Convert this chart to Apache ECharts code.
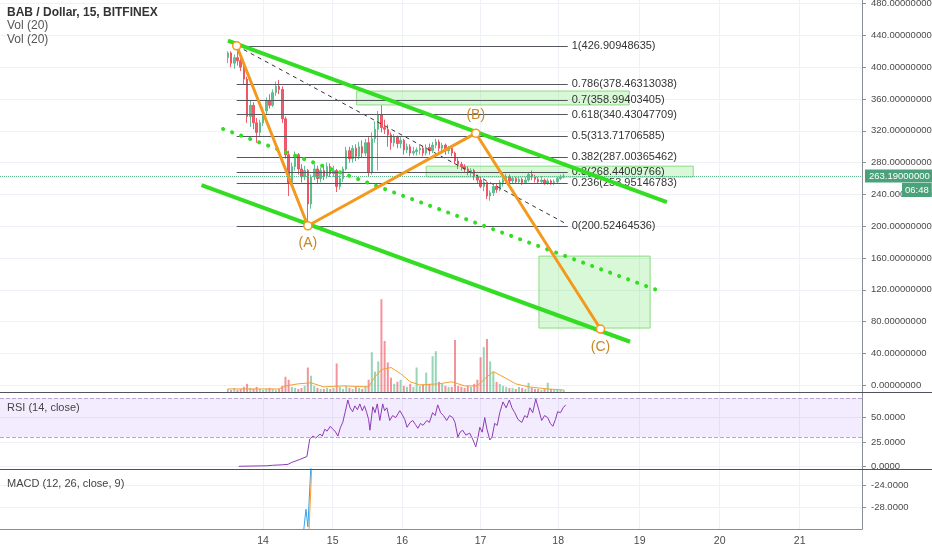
<!DOCTYPE html>
<html>
<head>
<meta charset="utf-8">
<script src="https://cdn.jsdelivr.net/npm/echarts@6/dist/echarts.min.js"></script>
<style>
html,body{margin:0;padding:0;background:#ffffff;}
#chart{width:932px;height:550px;}
</style>
</head>
<body>
<div id="chart"></div>
<script>
// ---- BAB / Dollar, 15-minute bars, BITFINEX ----
// x axis is measured in 15-minute bars; candles are sampled every 4 bars.
const candleStartBar = 285;
const candleStep = 4;

// [open, close, low, high]
const candles = [
  [412,418,405,420],[418,405,400,420],[405,412,398,416],[412,408,402,426.91],[408,400,395,412],[400,385,378,404],[385,338,330,388],[338,352,325,358],[352,330,322,356],[330,318,305,336],
  [318,330,312,334],[330,345,326,350],[345,358,340,362],[358,352,348,366],[352,368,350,372],[368,376,364,382],[376,372,366,384],[372,335,330,376],[335,290,285,338],[290,255,238,295],
  [255,275,250,280],[275,290,270,294],[290,272,265,292],[272,262,255,278],[262,270,258,276],[270,228,200.52,272],[228,262,222,265],[262,272,258,278],[272,260,254,276],[260,270,255,274],
  [270,263,258,278],[263,275,260,280],[275,266,262,279],[266,270,262,276],[270,250,243,272],[250,260,246,264],[260,272,256,275],[272,295,270,300],[295,285,280,300],[285,298,280,302],
  [298,288,282,303],[288,300,284,306],[300,292,286,308],[292,305,288,310],[305,268,262,312],[268,310,265,318],[310,322,305,332],[322,340,270,345],[340,324,318,352],[324,322,316,334],
  [322,315,300,328],[315,305,296,318],[305,312,300,316],[312,304,298,314],[304,308,298,312],[308,296,290,310],[296,300,292,304],[300,292,288,303],[292,294,289,300],[294,296,289,299],
  [296,298,290,303],[298,292,288,301],[292,299,289,303],[299,295,290,304],[295,302,292,306],[302,306,298,310],[306,298,294,309],[298,302,294,305],[302,295,290,304],[295,298,291,301],
  [298,292,288,300],[292,282,278,294],[282,278,272,286],[278,275,270,281],[275,272,268,278],[272,268,264,275],[268,270,263,273],[270,262,258,272],[262,258,253,265],[258,250,248,262],
  [250,255,244,258],[255,238,234,256],[238,242,232,245],[242,250,238,252],[250,246,242,254],[246,255,244,258],[255,258,250,262],[258,262,255,266],[262,257,254,265],[257,260,254,263],
  [260,256,253,262],[256,259,253,262],[259,255,252,261],[255,258,253,262],[258,265,256,268],[265,262,258,270],[262,259,255,265],[259,256,253,262],[256,258,253,263],[258,254,252,260],
  [254,257,252,260],[257,255,252,259],[255,256,252,259],[256,260,254,262],[260,262,258,265],[262,263.19,260,266]
];

// Volume per sampled candle
const volumes = [
  3,2,4,2,3,5,8,4,3,5, 3,2,3,4,3,2,3,6,15,12, 5,4,3,4,6,24,16,6,4,3,
  3,4,3,4,28,5,3,6,4,3, 5,4,3,6,12,39,20,30,91,50, 29,14,8,10,12,6,5,8,5,24,
  6,7,19,8,35,40,10,8,6,5, 5,51,6,5,4,6,5,8,12,34, 44,52,30,20,10,8,6,5,4,4,
  3,5,4,3,9,4,3,3,2,3, 9,3,2,3,2,2
];

// Vol (20) moving average, [candle index, value]
const volumeMA = [[0,3],[16,3],[18,6],[22,8],[26,9],[30,5],[36,6],[44,5],[46,15],[48,22],[51,24],[54,18],[57,10],[60,7],[66,8],[70,10],[74,6],[78,6],[81,15],[83,20],[86,15],[90,8],[94,5],[100,3],[105,2]];

// RSI (14, close), [candle index, value]
const rsi = [
  [3.4,0],[12,0.5],[14,1],[17,1.5],[18.8,2],[20,4],[22.5,7],[24.7,10],[25.6,28],[26.6,31],[27.5,29],[28.8,33],[29.5,31],[30.3,38],[31,36],[32,41],[32.8,38],[33.5,36],[34.4,31],[35.2,40],
  [35.9,45],[36.7,56],[37.5,68],[38.2,60],[39,56],[39.7,62],[40.5,58],[41.25,64],[42,57],[42.7,62],[43.4,55],[44,48],[44.4,37],[45.3,61],[46,55],[46.7,64],[47.5,47],[48.4,64],[49,57],[49.7,60],
  [50.6,47],[51.5,52],[52.5,50],[53.75,57],[54.5,53],[55.3,48],[56,40],[57,45],[57.8,47],[58.6,43],[59.4,39],[60.2,44],[61,42],[62.2,47],[63,45],[64,55],[64.8,52],[65.6,63],[66.5,55],[67.4,52],
  [68.4,47],[69.3,52],[70.3,50],[71,45],[71.9,30],[72.6,35],[73.4,37],[74.4,32],[75.6,34],[76.5,28],[77.5,20],[78.2,30],[78.75,40],[79.5,35],[80.3,50],[81,38],[81.9,27],[82.6,30],[83.4,44],[84.2,42],
  [85,55],[86,66],[87,60],[88,68],[88.8,60],[89.7,55],[90.7,48],[91.9,45],[92.8,52],[93.6,50],[94.4,60],[95.3,55],[96.25,69],[97.2,58],[98.1,47],[99,52],[100,50],[100.8,44],[101.6,41],[102.4,48],
  [103.1,56],[104,55],[104.8,60],[105.6,63]
];

// MACD (12, 26, close, 9), [candle index, value]
const macdLine = [[22.5,-45],[23.75,-32],[24.4,-28.4],[25,-31.6],[25.9,-21],[26.6,-10]];
const signalLine = [[24,-50],[25.3,-33],[26.2,-21],[27,-12]];

// Date axis
const dayLabels = ['14','15','16','17','18','19','20','21'];
const dayBars = [329,416,503,601,698,800,900,1000];

// Value axis ticks
const priceTicks = [0,40,80,120,160,200,240,280,320,360,400,440,480];
const rsiTicks = [0,25,50];
const macdTicks = [-28,-24];

// Fibonacci retracement
const fibLevels = ['1','0.786','0.7','0.618','0.5','0.382','0.3','0.236','0'];
const fibPrices = [426.90948635,378.46313038,358.99403405,340.43047709,313.71706585,287.00365462,268.44009766,253.95146783,200.52464536];
const fibSpan = [296,710];

// Wave count and channel, [bar, price]
const wavePoints = [[296,426.91],[385,200.52],[595,317],[751,70.7]];
const waveLabels = ['','(A)','(B)','(C)'];
const channelUpper = [[285,433.3],[834,230.4]];
const channelLower = [[252,251.8],[788,54.7]];
const channelMid = [[279,322.3],[825,118.4]];
const trendDashed = [[296,426.9],[709,202.5]];
const zones = [
  [[446,370.0],[787,352.5]],
  [[533,275.5],[867,261.9]],
  [[674,162.4],[813,71.9]]
];
const lastPrice = 263.19;
const countdown = '06:48';

// ---- styling ----
const UP = '#53b987', DOWN = '#eb4d5c';
const GREEN = '#33dd22', ORANGE = '#f39a1e';
const TEXT_FONT = "'Liberation Sans', Arial, sans-serif";
const AXIS_SIZE = 9.5;
const GRID_LINE = '#eef1f5';
const AXIS_LINE = '#8a8e96';

const toBar = idx => candleStartBar + idx * candleStep;
const X_MIN = 0, X_MAX = 1078;

function xAxis(gridIndex, showLabels) {
  return {
    type: 'value', gridIndex, min: X_MIN, max: X_MAX,
    axisLine: { show: showLabels, onZero: false, lineStyle: { color: AXIS_LINE } },
    axisTick: { show: false, customValues: dayBars },
    axisLabel: {
      show: showLabels, customValues: dayBars,
      formatter: v => dayLabels[dayBars.indexOf(v)] || '',
      color: '#4a4a4a', fontSize: 10.5, fontFamily: TEXT_FONT, margin: 7
    },
    splitLine: { show: gridIndex !== 1, lineStyle: { color: GRID_LINE } }
  };
}

function yAxis(gridIndex, min, max, ticks, digits) {
  return {
    type: 'value', gridIndex, position: 'right', min, max,
    axisLine: { show: true, onZero: false, lineStyle: { color: AXIS_LINE } },
    axisTick: { show: true, customValues: ticks, length: 4, lineStyle: { color: AXIS_LINE } },
    axisLabel: {
      customValues: ticks, formatter: v => v.toFixed(digits),
      color: '#4a4a4a', fontSize: AXIS_SIZE, fontFamily: TEXT_FONT, margin: 9
    },
    splitLine: { show: true, lineStyle: { color: GRID_LINE } }
  };
}

const candleData = candles.map((c, i) => [toBar(i), c[0], c[1], c[2], c[3]]);
const volumeData = volumes.map((v, i) => ({
  value: [toBar(i), v],
  itemStyle: { color: candles[i][1] >= candles[i][0] ? 'rgba(83,185,135,0.6)' : 'rgba(235,77,92,0.6)' }
}));
const pairs = arr => arr.map(p => [toBar(p[0]), p[1]]);

const fibMarks = fibPrices.map((p, k) => [
  { coord: [fibSpan[0], p] },
  { coord: [fibSpan[1], p], label: { formatter: fibLevels[k] + '(' + p.toFixed(8) + ')' } }
]);

const zoneMarks = zones.map(z => [{ coord: z[0] }, { coord: z[1] }]);

const waveData = wavePoints.map((p, i) => ({
  value: p,
  label: {
    show: waveLabels[i] !== '', formatter: waveLabels[i],
    position: i === 2 ? 'top' : 'bottom', distance: 6,
    color: '#c8862a', fontSize: 14, fontFamily: TEXT_FONT
  }
}));

const chart = echarts.init(document.getElementById('chart'), null, { renderer: 'canvas' });

chart.setOption({
  animation: false,
  backgroundColor: '#ffffff',
  grid: [
    { left: 0, right: 70, top: 0, height: 392, outerBoundsMode: 'none', containLabel: false },
    { left: 0, right: 70, top: 290, height: 102, outerBoundsMode: 'none', containLabel: false },
    { left: 0, right: 70, top: 392, height: 77, outerBoundsMode: 'none', containLabel: false },
    { left: 0, right: 70, top: 469, height: 60, outerBoundsMode: 'none', containLabel: false }
  ],
  xAxis: [xAxis(0, false), xAxis(1, false), xAxis(2, false), xAxis(3, true)],
  yAxis: [
    yAxis(0, -8.5, 484.5, priceTicks, 8),
    { type: 'value', gridIndex: 1, min: 0, max: 100, show: false, splitLine: { show: false } },
    yAxis(2, -2.8, 76.2, rsiTicks, 4),
    yAxis(3, -32, -21.1, macdTicks, 4)
  ],
  graphic: [
    { type: 'text', left: 7, top: 7, z: 60, style: { text: 'BAB / Dollar, 15, BITFINEX', font: 'bold 12px ' + TEXT_FONT, fill: '#333333' } },
    { type: 'text', left: 7, top: 20, z: 60, style: { text: 'Vol (20)', font: '12px ' + TEXT_FONT, fill: '#555555' } },
    { type: 'text', left: 7, top: 34, z: 60, style: { text: 'Vol (20)', font: '12px ' + TEXT_FONT, fill: '#555555' } },
    { type: 'text', left: 7, top: 402, z: 60, style: { text: 'RSI (14, close)', font: '11px ' + TEXT_FONT, fill: '#444444' } },
    { type: 'text', left: 7, top: 478, z: 60, style: { text: 'MACD (12, 26, close, 9)', font: '11px ' + TEXT_FONT, fill: '#444444' } },
    { type: 'line', shape: { x1: 0, y1: 392.5, x2: 932, y2: 392.5 }, style: { stroke: '#50535e', lineWidth: 1 }, z: 50 },
    { type: 'line', shape: { x1: 0, y1: 469.5, x2: 932, y2: 469.5 }, style: { stroke: '#50535e', lineWidth: 1 }, z: 50 },
    { type: 'text', left: 902, top: 183, z: 60, style: { text: countdown, font: AXIS_SIZE + 'px ' + TEXT_FONT, fill: '#ffffff', backgroundColor: '#4ba27a', padding: [2, 3] } }
  ],
  series: [
    // target zones
    {
      type: 'line', xAxisIndex: 0, yAxisIndex: 0, data: [], z: 1, silent: true,
      markArea: {
        silent: true,
        itemStyle: { color: 'rgba(120,230,110,0.28)', borderColor: '#8edb84', borderWidth: 1 },
        data: zoneMarks
      }
    },
    // fibonacci levels
    {
      type: 'line', xAxisIndex: 0, yAxisIndex: 0, data: [], z: 2, silent: true,
      markLine: {
        silent: true, symbol: ['none', 'none'], animation: false,
        lineStyle: { color: '#55575e', width: 1, type: 'solid' },
        label: { position: 'end', distance: 4, color: '#333333', fontSize: 11, fontFamily: TEXT_FONT },
        data: fibMarks
      }
    },
    // price candles
    {
      type: 'candlestick', xAxisIndex: 0, yAxisIndex: 0, z: 3,
      data: candleData, encode: { x: 0, y: [1, 2, 3, 4] }, barWidth: 2,
      itemStyle: { color: UP, color0: DOWN, borderColor: UP, borderColor0: DOWN, borderWidth: 1, opacity: 0.9 },
      markLine: {
        silent: true, symbol: ['none', 'none'], animation: false,
        lineStyle: { color: '#5fb98a', width: 1, type: 'dotted' },
        label: {
          position: 'end', distance: 3, formatter: lastPrice.toFixed(8),
          color: '#ffffff', backgroundColor: '#4ba27a', padding: [2, 4, 1, 4],
          fontSize: AXIS_SIZE, fontFamily: TEXT_FONT
        },
        data: [{ yAxis: lastPrice }]
      }
    },
    // dashed trend
    {
      type: 'line', xAxisIndex: 0, yAxisIndex: 0, z: 4, data: trendDashed, symbol: 'none', silent: true,
      lineStyle: { color: '#333333', width: 1, type: [4, 4] }
    },
    // channel
    {
      type: 'line', xAxisIndex: 0, yAxisIndex: 0, z: 5, data: channelUpper, symbol: 'none', silent: true,
      lineStyle: { color: GREEN, width: 4 }
    },
    {
      type: 'line', xAxisIndex: 0, yAxisIndex: 0, z: 5, data: channelLower, symbol: 'none', silent: true,
      lineStyle: { color: GREEN, width: 4 }
    },
    {
      type: 'line', xAxisIndex: 0, yAxisIndex: 0, z: 5, data: channelMid, symbol: 'none', silent: true,
      lineStyle: { color: GREEN, width: 4, type: [0.1, 9.5], cap: 'round' }
    },
    // wave A-B-C
    {
      type: 'line', xAxisIndex: 0, yAxisIndex: 0, z: 6, data: waveData, silent: true,
      symbol: 'circle', symbolSize: 8, showAllSymbol: true,
      itemStyle: { color: '#ffffff', borderColor: ORANGE, borderWidth: 1.5 },
      lineStyle: { color: ORANGE, width: 3 }
    },
    // volume
    {
      type: 'bar', xAxisIndex: 1, yAxisIndex: 1, data: volumeData, barWidth: 2, z: 2, silent: true
    },
    {
      type: 'line', xAxisIndex: 1, yAxisIndex: 1, data: pairs(volumeMA), symbol: 'none', z: 3, silent: true,
      lineStyle: { color: '#f2a035', width: 1 }
    },
    // RSI
    {
      type: 'line', xAxisIndex: 2, yAxisIndex: 2, data: pairs(rsi), symbol: 'none', z: 3, silent: true,
      lineStyle: { color: '#8e3bb5', width: 1 },
      markArea: {
        silent: true, itemStyle: { color: 'rgba(153,102,255,0.12)' },
        data: [[{ yAxis: 30 }, { yAxis: 70 }]]
      },
      markLine: {
        silent: true, symbol: ['none', 'none'], animation: false, label: { show: false },
        lineStyle: { color: '#b9a6cf', width: 1, type: 'dashed' },
        data: [{ yAxis: 70 }, { yAxis: 30 }]
      }
    },
    // MACD
    {
      type: 'line', xAxisIndex: 3, yAxisIndex: 3, data: pairs(macdLine), symbol: 'none', z: 3, silent: true,
      lineStyle: { color: '#3aa0e8', width: 1 }
    },
    {
      type: 'line', xAxisIndex: 3, yAxisIndex: 3, data: pairs(signalLine), symbol: 'none', z: 3, silent: true,
      lineStyle: { color: '#ff9a2e', width: 1 }
    }
  ]
});
</script>
</body>
</html>
